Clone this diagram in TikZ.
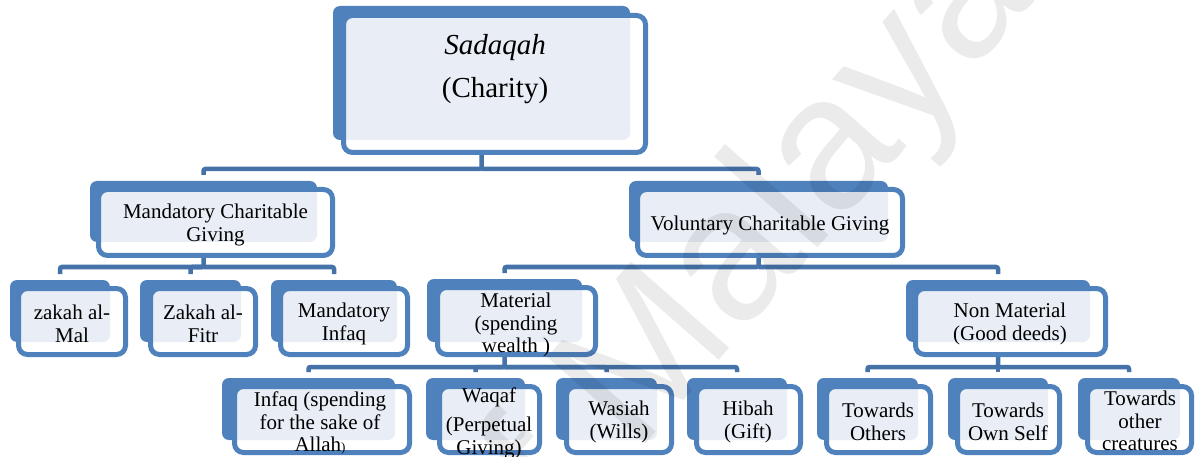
\documentclass[tikz,border=0pt]{standalone}
\usepackage{fontspec}
\setmainfont{Liberation Serif}
\newfontfamily\wmfont{Liberation Sans}
\usetikzlibrary{fit}
\definecolor{boxblue}{HTML}{4F81BD}
\definecolor{linkblue}{HTML}{4672AA}
\definecolor{paleblue}{HTML}{E9EEF6}
\pgfdeclarelayer{lpage}\pgfdeclarelayer{lconn}\pgfdeclarelayer{lback}\pgfdeclarelayer{lwhite}\pgfdeclarelayer{llight}
\pgfsetlayers{lpage,lconn,lback,lwhite,llight,main}
\tikzset{
  backbox/.style={fill=boxblue, rounded corners=7pt, inner sep=0pt, outer sep=0pt},
  framebox/.style={draw=boxblue, line width=5pt, rounded corners=9pt, inner sep=0pt, outer sep=0pt},
  conn/.style={draw=linkblue, line width=4.5pt, rounded corners=2pt},
  connend/.style={conn, shorten >=6pt},
  lbl/.style={align=center, font=\fontsize{21}{22.5}\selectfont, inner sep=0pt},
}
% #1 name, #2 #3 corners of the solid back panel, #4 #5 corners of the outlined frame
\newcommand\orgbox[5]{%
  \begin{pgfonlayer}{lback}
    \node[backbox, fit={#2 #3}] (#1b) {};
  \end{pgfonlayer}
  \begin{pgfonlayer}{lwhite}
    \fill[white, rounded corners=9pt] #4 rectangle #5;
  \end{pgfonlayer}
  \begin{pgfonlayer}{llight}
    \begin{scope}
      \clip[rounded corners=9pt] #4 rectangle #5;
      \fill[paleblue, rounded corners=7pt] (#1b.south west) rectangle (#1b.north east);
    \end{scope}
  \end{pgfonlayer}
  \node[framebox, fit={#4 #5}] (#1) {};
}
\begin{document}
\begin{tikzpicture}[x=1pt, y=-1pt]
\useasboundingbox (0,0) rectangle (1197,457);
\begin{pgfonlayer}{lpage}
  \fill[white] (0,0) rectangle (1197,457);
\end{pgfonlayer}

% root
\orgbox{top}{(333,6)}{(630,140)}{(343.5,15.5)}{(645.5,152.5)}
\node[lbl, font=\fontsize{29}{30}\selectfont] (topt) at (495,69) {\textit{Sadaqah}\\[13pt](Charity)};

% second level
\orgbox{mand}{(90,181)}{(317,242)}{(98.5,189.5)}{(332.5,255.5)}
\node[lbl] (mandt) at (215.5,225) {Mandatory Charitable\\Giving};
\orgbox{vol}{(629,181)}{(888,242)}{(637.5,189.5)}{(902.5,255.5)}
\node[lbl] (volt) at (770,225) {Voluntary Charitable Giving};

% third level
\orgbox{zmal}{(10,280)}{(110,342)}{(18.5,288.5)}{(125.5,354.5)}
\node[lbl] (zmalt) at (72,324) {zakah al-\\Mal};
\orgbox{zfit}{(140,280)}{(241,342)}{(150.5,288.5)}{(255.5,354.5)}
\node[lbl] (zfitt) at (203,324) {Zakah al-\\Fitr};
\orgbox{minf}{(271,280)}{(397,342)}{(280.5,288.5)}{(407.5,354.5)}
\node[lbl] (minft) at (344,324) {Mandatory\\Infaq};
\orgbox{mat}{(427,279)}{(582,342)}{(437.5,287.5)}{(595.5,354.5)}
\node[lbl] (matt) at (516,325) {Material\\(spending\\wealth )};
\orgbox{nmat}{(906,280)}{(1090,342)}{(915.5,288.5)}{(1105.5,354.5)}
\node[lbl] (nmatt) at (1010,324) {Non Material\\(Good deeds)};

% fourth level
\orgbox{infq}{(222,378)}{(395,440)}{(234.5,386.5)}{(409.5,452.5)}
\node[lbl] (infqt) at (320,423) {Infaq (spending\\for the sake of\\Allah{\fontsize{13}{14}\selectfont)}};
\orgbox{waqf}{(426,378)}{(525,440)}{(439.5,386.5)}{(539.5,452.5)}
\node[lbl] (waqft) at (489,423) {Waqaf\\[7pt](Perpetual\\Giving)};
\orgbox{wasi}{(556,378)}{(657,440)}{(566.5,386.5)}{(671.5,452.5)}
\node[lbl] (wasit) at (619,422) {Wasiah\\(Wills)};
\orgbox{hiba}{(687,378)}{(787,440)}{(696.5,386.5)}{(800.5,452.5)}
\node[lbl] (hibat) at (748,422) {Hibah\\(Gift)};
\orgbox{toth}{(817,378)}{(918,440)}{(826.5,386.5)}{(930.5,452.5)}
\node[lbl] (totht) at (878,422) {Towards\\Others};
\orgbox{town}{(948,378)}{(1048,440)}{(957.5,386.5)}{(1059.5,452.5)}
\node[lbl] (townt) at (1008,422) {Towards\\Own Self};
\orgbox{tcre}{(1078,378)}{(1180,440)}{(1087.5,386.5)}{(1191.5,452.5)}
\node[lbl] (tcret) at (1140,421) {Towards\\other\\creatures};

% connector buses
\coordinate (bus0) at (0,169);
\coordinate (bus1) at (0,267);
\coordinate (bus2) at (0,367);
\begin{pgfonlayer}{lconn}
  \draw[connend] (topb.south) -- (topb.south |- bus0) -| (mandb.north);
  \draw[connend] (topb.south |- bus0) -| (volb.north);
  \draw[connend] (mandb.south) -- (mandb.south |- bus1) -| (zmalb.north);
  \draw[connend] (mandb.south |- bus1) -| (zfitb.north);
  \draw[connend] (mandb.south |- bus1) -| (minfb.north);
  \draw[connend] (volb.south) -- (volb.south |- bus1) -| (matb.north);
  \draw[connend] (volb.south |- bus1) -| (nmatb.north);
  \draw[connend] (matb.south) -- (matb.south |- bus2) -| (infqb.north);
  \draw[connend] (matb.south |- bus2) -| (waqfb.north);
  \draw[connend] (matb.south |- bus2) -| (wasib.north);
  \draw[connend] (matb.south |- bus2) -| (hibab.north);
  \draw[connend] (nmatb.south) -- (nmatb.south |- bus2) -| (tothb.north);
  \draw[connend] (nmatb.south |- bus2) -| (townb.north);
  \draw[connend] (nmatb.south |- bus2) -| (tcreb.north);
\end{pgfonlayer}

% faint watermark
\node[rotate=48.7, anchor=base east, text=black, opacity=0.08, inner sep=0pt,
      font=\wmfont\fontsize{190}{190}\selectfont] (wm) at (1040,-5) {of Malaya};
\end{tikzpicture}
\end{document}
